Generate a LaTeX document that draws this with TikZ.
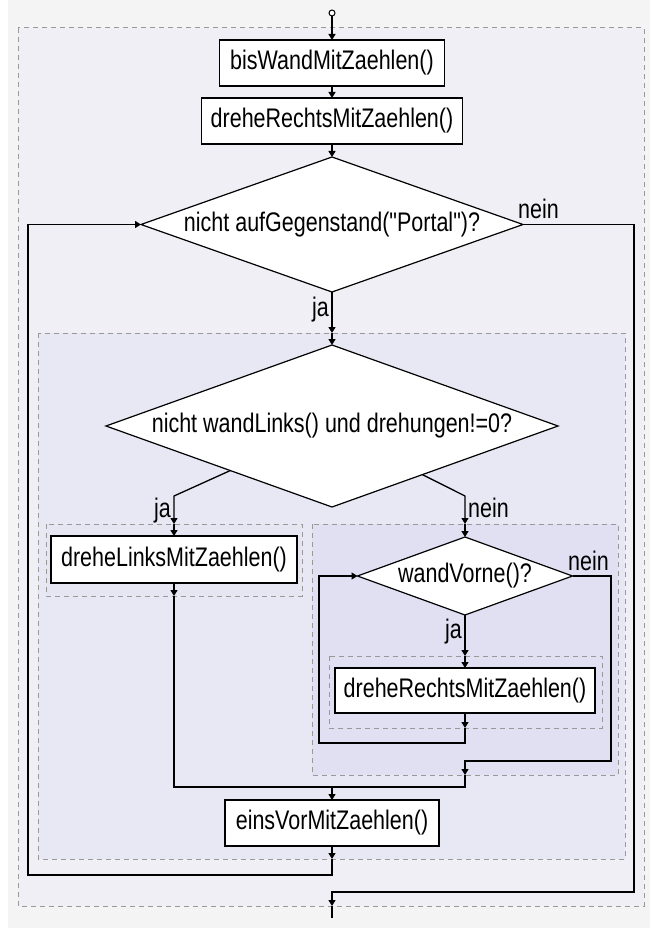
\documentclass[tikz,border=0pt]{standalone}
\usepackage{fontspec}
\setmainfont{Liberation Sans}[Ligatures=TeXOff]
\usepackage{graphicx}
\usetikzlibrary{arrows.meta,shapes.geometric,calc}
\definecolor{bgc}{HTML}{F4F4F4}
\definecolor{outerfill}{HTML}{EFEFF5}
\definecolor{innerfill}{HTML}{E8E8F4}
\definecolor{leftfill}{HTML}{E6E6F3}
\definecolor{rightfill}{HTML}{E0E0F2}
\definecolor{dashc}{HTML}{999999}
\newcommand{\tl}[1]{\scalebox{1}[1.25]{#1}}
\begin{document}
\begin{tikzpicture}[x=1pt,y=-1pt,
  font=\fontsize{21.5}{26}\selectfont,
  box/.style={draw=black,line width=1.6pt,fill=white,rectangle,inner sep=0pt,outer sep=0pt},
  dia/.style={draw=black,line width=1.2pt,fill=white,diamond,inner sep=0pt,outer sep=0pt},
  conn/.style={line width=1.3pt,draw=black},
  arr/.style={conn,-{Triangle[length=6pt,width=7pt]}},
  grp/.style={draw=dashc,line width=1pt,dash pattern=on 5pt off 4pt},
  lbl/.style={inner sep=0pt}
]
\useasboundingbox (0,0) rectangle (650,928);
\fill[white] (0,0) rectangle (8,928);
\fill[bgc] (8,0) rectangle (650,928);

% groups
\draw[grp,fill=outerfill] (18,28) rectangle (644,906);
\draw[grp,fill=innerfill] (38,333) rectangle (625,859);
\draw[grp,fill=leftfill] (46,524) rectangle (302,596);
\draw[grp,fill=rightfill] (312,524) rectangle (618,775);
\draw[grp,fill=rightfill] (329,656) rectangle (602,728);

% nodes
\node[circle,draw,line width=1pt,minimum size=6pt,inner sep=0pt,fill=white] (start) at (332,13) {};
\node[box,minimum width=225pt,minimum height=46pt] (b1) at (332,63) {\tl{bisWandMitZaehlen()}};
\node[box,minimum width=261pt,minimum height=46pt] (b2) at (332,121) {\tl{dreheRechtsMitZaehlen()}};
\node[dia,minimum width=382pt,minimum height=135pt] (d1) at (332,224.5) {};
\node (d1t) at (d1) {\tl{nicht aufGegenstand("Portal")?}};
\node[dia,minimum width=452pt,minimum height=162pt] (d2) at (332,426) {};
\node (d2t) at (d2) {\tl{nicht wandLinks() und drehungen!=0?}};
\node[box,minimum width=246pt,minimum height=47pt] (b3) at (174,559.5) {\tl{dreheLinksMitZaehlen()}};
\node[dia,minimum width=215pt,minimum height=78pt] (d3) at (465,576) {};
\node (d3t) at (d3) {\tl{wandVorne()?}};
\node[box,minimum width=260pt,minimum height=45pt] (b4) at (465,690.5) {\tl{dreheRechtsMitZaehlen()}};
\node[box,minimum width=214pt,minimum height=46pt] (b5) at (332,823) {\tl{einsVorMitZaehlen()}};

% coordinates
\coordinate (c1) at (332,333);
\coordinate (jl1) at (174,496);
\coordinate (jl2) at (174,524);
\coordinate (jr1) at (465,496);
\coordinate (jr2) at (465,524);
\coordinate (n1a) at (634,224.5);
\coordinate (n1b) at (634,892);
\coordinate (n1c) at (332,892);
\coordinate (endc) at (332,906);
\coordinate (endd) at (332,918);
\coordinate (e1) at (332,859);
\coordinate (e2) at (332,875);
\coordinate (e3) at (28,875);
\coordinate (e4) at (28,224.5);
\coordinate (l1) at (174,596);
\coordinate (l2) at (174,787);
\coordinate (w1) at (611,576);
\coordinate (w2) at (611,761);
\coordinate (r1) at (465,761);
\coordinate (r2) at (465,775);
\coordinate (m1) at (465,787);
\coordinate (m0) at (332,787);
\coordinate (v1) at (465,656);
\coordinate (v2) at (465,728);
\coordinate (v3) at (465,743);
\coordinate (v4) at (319,743);
\coordinate (v5) at (319,576);

% connectors
\draw[arr] (start.south) -- (b1.north);
\draw[arr] (b1.south) -- (b2.north);
\draw[arr] (b2.south) -- (d1.north);
\draw[arr] (d1.south) -- (c1);
\draw[arr] (c1) -- (d2.north);
\draw[arr] ($(d2.west)!0.55!(d2.south)$) -- (jl1) -- (jl2);
\draw[arr] (jl2) -- (b3.north);
\draw[arr] ($(d2.east)!0.6!(d2.south)$) -- (jr1) -- (jr2);
\draw[arr] (jr2) -- (d3.north);
\draw[arr] (d1.east) -- (n1a) -- (n1b) -- (n1c) -- (endc);
\draw[conn] (endc) -- (endd);
\draw[arr] (b5.south) -- (e1);
\draw[arr] (e1) -- (e2) -- (e3) -- (e4) -- (d1.west);
\draw[arr] (b3.south) -- (l1);
\draw[arr] (d3.east) -- (w1) -- (w2) -- (r1) -- (r2);
\draw[conn] (l1) -- (l2) -- (m1) -- (r2);
\draw[arr] (m0) -- (b5.north);
\draw[arr] (d3.south) -- (v1);
\draw[arr] (v1) -- (b4.north);
\draw[arr] (b4.south) -- (v2);
\draw[arr] (v2) -- (v3) -- (v4) -- (v5) -- (d3.west);

% labels
\node[lbl,anchor=base west] (ln1) at (518,218) {\tl{nein}};
\node[lbl,anchor=base east] (lj1) at (329,316) {\tl{ja}};
\node[lbl,anchor=base east] (lj2) at (171,517) {\tl{ja}};
\node[lbl,anchor=base west] (ln2) at (468,517) {\tl{nein}};
\node[lbl,anchor=base west] (ln3) at (568,570) {\tl{nein}};
\node[lbl,anchor=base east] (lj3) at (462,638) {\tl{ja}};
\end{tikzpicture}
\end{document}
